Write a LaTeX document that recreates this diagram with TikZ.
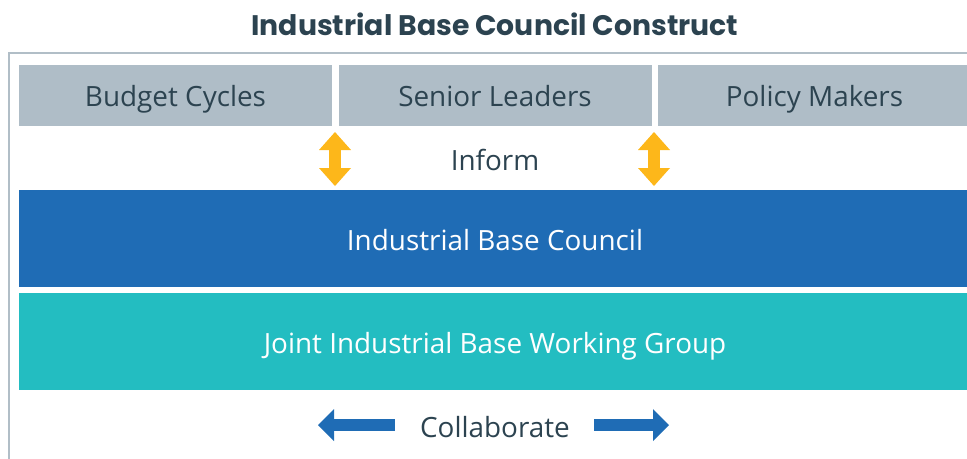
\documentclass[tikz,border=0pt]{standalone}
\usepackage{fontspec}
\setmainfont{Open Sans}
\newfontfamily\titlefont{Poppins}
\usetikzlibrary{arrows.meta}
\definecolor{slate}{HTML}{2C4350}
\definecolor{framegray}{HTML}{B1BEC7}
\definecolor{boxgray}{HTML}{AFBDC7}
\definecolor{councilblue}{HTML}{1F6CB5}
\definecolor{groupteal}{HTML}{23BDC1}
\definecolor{informyellow}{HTML}{FDB71A}
\def\px{0.75pt}
\tikzset{
	label/.style={text=slate, inner sep=0pt, text height=14.9pt, text depth=0pt, font=\fontsize{20.9}{24}\selectfont},
	topbox/.style={label, fill=boxgray, text height=16.4pt, minimum width=313*\px, minimum height=61*\px},
	band/.style={label, text=white, text height=17.9pt, minimum width=952*\px, minimum height=97*\px},
	informarrow/.style={informyellow, line width=9pt,
		{Triangle[width=24pt,length=13.5pt,line width=0pt]}-{Triangle[width=24pt,length=13.5pt,line width=0pt]}},
	collabarrow/.style={councilblue, line width=9pt, -{Triangle[width=24pt,length=12pt,line width=0pt]}}
}
\begin{document}
\begin{tikzpicture}[x=\px,y=-\px]
	\useasboundingbox (0,0) rectangle (967,458);
	% title and frame
	\node[text=slate, font=\titlefont\bfseries\fontsize{21.2}{26}\selectfont] (title) at (495,24) {Industrial Base Council Construct};
	\draw[framegray, line width=1.5pt] (8.5,470) -- (8.5,53) -- (980,53);
	% top row
	\node[topbox] (budget) at (175.5,95.5) {Budget Cycles};
	\node[topbox] (senior) at (495,95.5) {Senior Leaders};
	\node[topbox] (policy) at (814.5,95.5) {Policy Makers};
	\node[label] (inform) at (495,160.5) {Inform};
	\coordinate (inA) at (335,132);
	\coordinate (inB) at (335,186);
	\coordinate (inC) at (654,132);
	\coordinate (inD) at (654,186);
	\draw[informarrow] (inA) -- (inB);
	\draw[informarrow] (inC) -- (inD);
	% bands
	\node[band, fill=councilblue] (council) at (495,238.5) {Industrial Base Council};
	\node[band, fill=groupteal] (jibwg) at (495,341.5) {Joint Industrial Base Working Group};
	% collaborate
	\node[label] (collab) at (495,427.5) {Collaborate};
	\coordinate (colL) at (318,425);
	\coordinate (colR) at (669,425);
	\draw[collabarrow] ([xshift=-25*\px]collab.west |- colL) -- (colL);
	\draw[collabarrow] ([xshift=24*\px]collab.east |- colR) -- (colR);
\end{tikzpicture}
\end{document}
